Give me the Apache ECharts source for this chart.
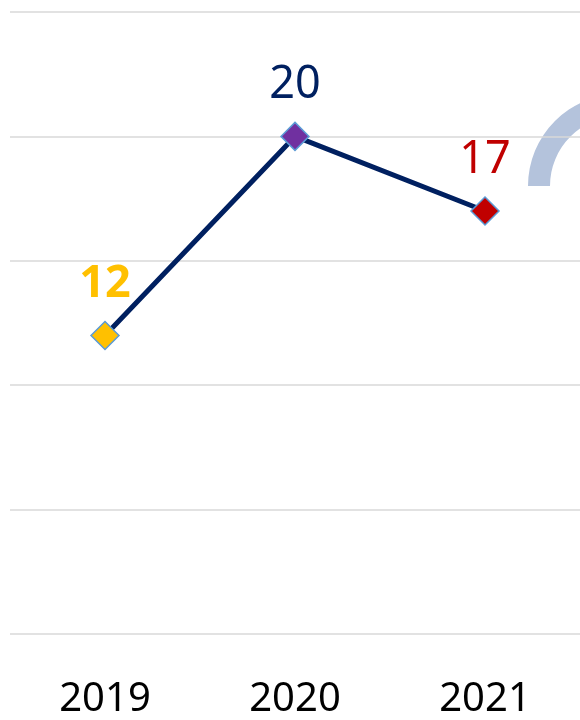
<!DOCTYPE html>
<html>
<head>
<meta charset="utf-8">
<script src="https://cdn.jsdelivr.net/npm/echarts@6/dist/echarts.min.js"></script>
<style>
  html, body { margin: 0; padding: 0; background: #fff; }
  #chart { width: 580px; height: 720px; }
</style>
</head>
<body>
<div id="chart"></div>
<script>
var years = ['2019', '2020', '2021'];
var values = [12, 20, 17];
var pointColors = ['#FFC000', '#7030A0', '#C00000'];
var labelColors = ['#FFC000', '#002060', '#C00000'];
var labelWeights = ['bold', 'normal', 'normal'];

var myChart = echarts.init(document.getElementById('chart'));

var seriesData = values.map(function (v, i) {
    return {
        value: v,
        itemStyle: { color: pointColors[i] },
        label: { color: labelColors[i], fontWeight: labelWeights[i] }
    };
});

var option = {
    animation: false,
    grid: { left: 10, right: -3, top: 12, bottom: 78 },
    xAxis: {
        type: 'category',
        data: years,
        axisLine: { show: false },
        axisTick: { show: false },
        axisLabel: {
            margin: 46,
            fontSize: 40,
            lineHeight: 40,
            color: '#000',
            fontFamily: 'Noto Sans'
        }
    },
    yAxis: {
        type: 'value',
        min: 0,
        max: 25,
        interval: 5,
        axisLabel: { show: false },
        axisLine: { show: false },
        axisTick: { show: false },
        splitLine: { lineStyle: { color: '#D9D9D9', width: 1.5 } }
    },
    series: [{
        type: 'line',
        data: seriesData,
        symbol: 'diamond',
        symbolSize: 28,
        lineStyle: { color: '#002060', width: 5 },
        itemStyle: { borderColor: '#5B9BD5', borderWidth: 1.5 },
        label: {
            show: true,
            position: 'top',
            distance: 14,
            fontSize: 45,
            fontFamily: 'Noto Sans'
        }
    }],
    graphic: [{
        type: 'sector',
        shape: { cx: 620, cy: 186, r: 92, r0: 70, startAngle: Math.PI, endAngle: Math.PI * 1.5 },
        style: { fill: '#B4C3DC' }
    }]
};

myChart.setOption(option);
</script>
</body>
</html>
